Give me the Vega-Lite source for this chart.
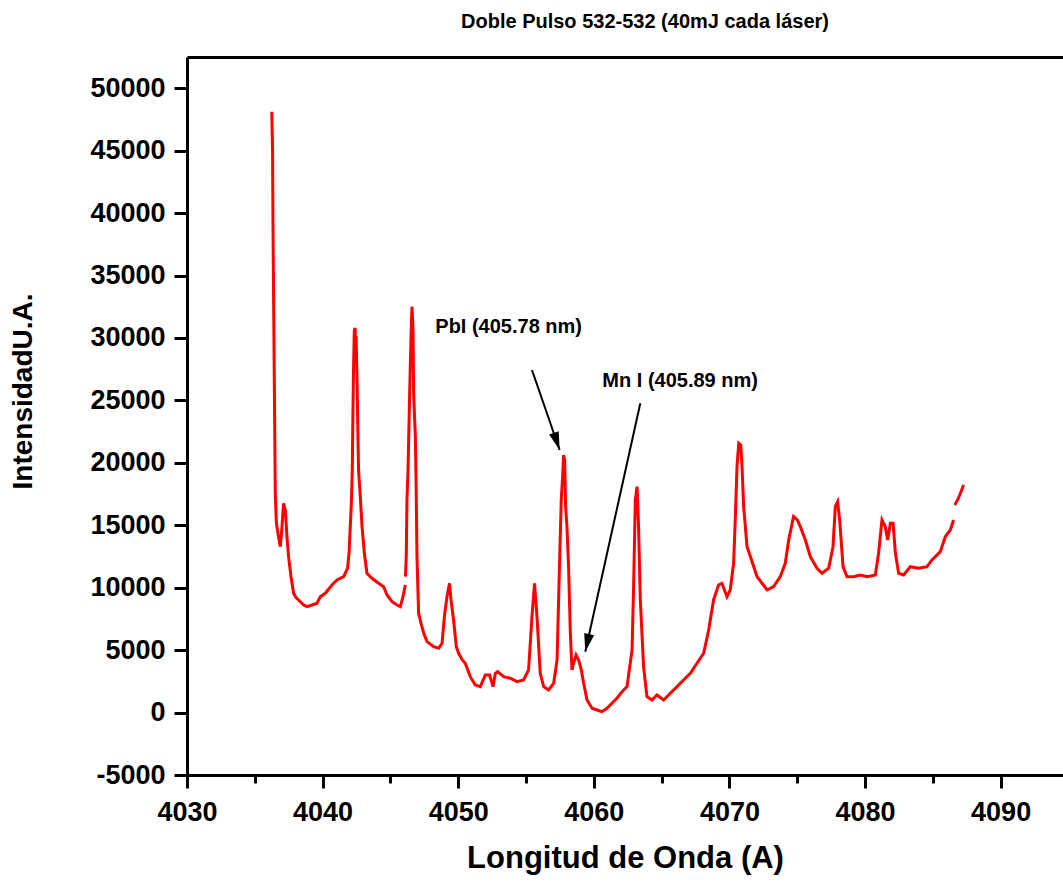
{
  "$schema": "https://vega.github.io/schema/vega-lite/v6.json",
  "autosize": {"type": "none"},
  "padding": {"left": 187, "top": 57, "right": 0, "bottom": 107},
  "width": 876,
  "height": 718,
  "background": "white",
  "config": {"view": {"stroke": null}, "font": "Liberation Sans"},
  "title": {"text": "Doble Pulso  532-532 (40mJ cada láser)", "frame": "group", "anchor": "middle", "dx": 20, "dy": 19, "offset": 28, "baseline": "alphabetic", "font": "Liberation Sans", "fontSize": 20, "fontWeight": "bold", "color": "black"},
  "datasets": {
    "spectrum": [
      {"x": 4036.25, "y": 48120, "seg": 1},
      {"x": 4036.31, "y": 45053, "seg": 1},
      {"x": 4036.34, "y": 39287, "seg": 1},
      {"x": 4036.40, "y": 31600, "seg": 1},
      {"x": 4036.46, "y": 23824, "seg": 1},
      {"x": 4036.51, "y": 17578, "seg": 1},
      {"x": 4036.59, "y": 15183, "seg": 1},
      {"x": 4036.73, "y": 14222, "seg": 1},
      {"x": 4036.88, "y": 13285, "seg": 1},
      {"x": 4036.99, "y": 14623, "seg": 1},
      {"x": 4037.12, "y": 16761, "seg": 1},
      {"x": 4037.25, "y": 16224, "seg": 1},
      {"x": 4037.37, "y": 14086, "seg": 1},
      {"x": 4037.49, "y": 12484, "seg": 1},
      {"x": 4037.67, "y": 10883, "seg": 1},
      {"x": 4037.86, "y": 9554, "seg": 1},
      {"x": 4038.05, "y": 9200, "seg": 1},
      {"x": 4038.23, "y": 9017, "seg": 1},
      {"x": 4038.60, "y": 8617, "seg": 1},
      {"x": 4038.85, "y": 8481, "seg": 1},
      {"x": 4039.22, "y": 8617, "seg": 1},
      {"x": 4039.59, "y": 8753, "seg": 1},
      {"x": 4039.83, "y": 9281, "seg": 1},
      {"x": 4040.20, "y": 9554, "seg": 1},
      {"x": 4040.69, "y": 10218, "seg": 1},
      {"x": 4041.06, "y": 10619, "seg": 1},
      {"x": 4041.55, "y": 10883, "seg": 1},
      {"x": 4041.84, "y": 11556, "seg": 1},
      {"x": 4041.95, "y": 12757, "seg": 1},
      {"x": 4042.04, "y": 14887, "seg": 1},
      {"x": 4042.12, "y": 16761, "seg": 1},
      {"x": 4042.19, "y": 19428, "seg": 1},
      {"x": 4042.23, "y": 23431, "seg": 1},
      {"x": 4042.28, "y": 27435, "seg": 1},
      {"x": 4042.34, "y": 30639, "seg": 1},
      {"x": 4042.40, "y": 30800, "seg": 1},
      {"x": 4042.43, "y": 29437, "seg": 1},
      {"x": 4042.47, "y": 30158, "seg": 1},
      {"x": 4042.54, "y": 26634, "seg": 1},
      {"x": 4042.60, "y": 22630, "seg": 1},
      {"x": 4042.65, "y": 19428, "seg": 1},
      {"x": 4042.78, "y": 17289, "seg": 1},
      {"x": 4042.91, "y": 14887, "seg": 1},
      {"x": 4043.08, "y": 12757, "seg": 1},
      {"x": 4043.27, "y": 11155, "seg": 1},
      {"x": 4043.64, "y": 10755, "seg": 1},
      {"x": 4044.13, "y": 10354, "seg": 1},
      {"x": 4044.50, "y": 10082, "seg": 1},
      {"x": 4044.75, "y": 9417, "seg": 1},
      {"x": 4045.12, "y": 8881, "seg": 1},
      {"x": 4045.49, "y": 8617, "seg": 1},
      {"x": 4045.73, "y": 8481, "seg": 1},
      {"x": 4045.93, "y": 9281, "seg": 1},
      {"x": 4046.10, "y": 10218, "seg": 1},
      {"x": 4046.11, "y": 10883, "seg": 2},
      {"x": 4046.17, "y": 12484, "seg": 2},
      {"x": 4046.22, "y": 17025, "seg": 2},
      {"x": 4046.30, "y": 19428, "seg": 2},
      {"x": 4046.42, "y": 25594, "seg": 2},
      {"x": 4046.52, "y": 30102, "seg": 2},
      {"x": 4046.59, "y": 32504, "seg": 2},
      {"x": 4046.64, "y": 31439, "seg": 2},
      {"x": 4046.67, "y": 30639, "seg": 2},
      {"x": 4046.71, "y": 25594, "seg": 2},
      {"x": 4046.84, "y": 22094, "seg": 2},
      {"x": 4046.90, "y": 17826, "seg": 2},
      {"x": 4046.96, "y": 12484, "seg": 2},
      {"x": 4047.08, "y": 7952, "seg": 2},
      {"x": 4047.26, "y": 7151, "seg": 2},
      {"x": 4047.45, "y": 6374, "seg": 2},
      {"x": 4047.70, "y": 5678, "seg": 2},
      {"x": 4048.19, "y": 5277, "seg": 2},
      {"x": 4048.56, "y": 5149, "seg": 2},
      {"x": 4048.81, "y": 5549, "seg": 2},
      {"x": 4048.98, "y": 7680, "seg": 2},
      {"x": 4049.17, "y": 9281, "seg": 2},
      {"x": 4049.36, "y": 10354, "seg": 2},
      {"x": 4049.47, "y": 9017, "seg": 2},
      {"x": 4049.66, "y": 7415, "seg": 2},
      {"x": 4049.86, "y": 5277, "seg": 2},
      {"x": 4050.03, "y": 4749, "seg": 2},
      {"x": 4050.30, "y": 4212, "seg": 2},
      {"x": 4050.52, "y": 3948, "seg": 2},
      {"x": 4050.89, "y": 2875, "seg": 2},
      {"x": 4051.26, "y": 2210, "seg": 2},
      {"x": 4051.63, "y": 2074, "seg": 2},
      {"x": 4052.00, "y": 3011, "seg": 2},
      {"x": 4052.32, "y": 3011, "seg": 2},
      {"x": 4052.57, "y": 2074, "seg": 2},
      {"x": 4052.74, "y": 3147, "seg": 2},
      {"x": 4052.91, "y": 3275, "seg": 2},
      {"x": 4053.35, "y": 2875, "seg": 2},
      {"x": 4053.84, "y": 2747, "seg": 2},
      {"x": 4054.34, "y": 2474, "seg": 2},
      {"x": 4054.82, "y": 2611, "seg": 2},
      {"x": 4055.19, "y": 3411, "seg": 2},
      {"x": 4055.44, "y": 7680, "seg": 2},
      {"x": 4055.63, "y": 10354, "seg": 2},
      {"x": 4055.81, "y": 7680, "seg": 2},
      {"x": 4056.05, "y": 3147, "seg": 2},
      {"x": 4056.30, "y": 2074, "seg": 2},
      {"x": 4056.67, "y": 1810, "seg": 2},
      {"x": 4057.04, "y": 2346, "seg": 2},
      {"x": 4057.29, "y": 4212, "seg": 2},
      {"x": 4057.48, "y": 12220, "seg": 2},
      {"x": 4057.60, "y": 17025, "seg": 2},
      {"x": 4057.70, "y": 18891, "seg": 2},
      {"x": 4057.77, "y": 20629, "seg": 2},
      {"x": 4057.85, "y": 20229, "seg": 2},
      {"x": 4057.92, "y": 16489, "seg": 2},
      {"x": 4058.02, "y": 14887, "seg": 2},
      {"x": 4058.14, "y": 11684, "seg": 2},
      {"x": 4058.27, "y": 6350, "seg": 2},
      {"x": 4058.39, "y": 3411, "seg": 2},
      {"x": 4058.51, "y": 3948, "seg": 2},
      {"x": 4058.69, "y": 4613, "seg": 2},
      {"x": 4058.88, "y": 4212, "seg": 2},
      {"x": 4059.08, "y": 3411, "seg": 2},
      {"x": 4059.25, "y": 2346, "seg": 2},
      {"x": 4059.50, "y": 1009, "seg": 2},
      {"x": 4059.87, "y": 344, "seg": 2},
      {"x": 4060.24, "y": 208, "seg": 2},
      {"x": 4060.60, "y": 72, "seg": 2},
      {"x": 4060.97, "y": 344, "seg": 2},
      {"x": 4061.34, "y": 745, "seg": 2},
      {"x": 4061.71, "y": 1145, "seg": 2},
      {"x": 4062.08, "y": 1674, "seg": 2},
      {"x": 4062.45, "y": 2074, "seg": 2},
      {"x": 4062.82, "y": 5013, "seg": 2},
      {"x": 4062.94, "y": 10354, "seg": 2},
      {"x": 4063.06, "y": 17025, "seg": 2},
      {"x": 4063.19, "y": 18090, "seg": 2},
      {"x": 4063.30, "y": 14887, "seg": 2},
      {"x": 4063.43, "y": 9017, "seg": 2},
      {"x": 4063.67, "y": 3676, "seg": 2},
      {"x": 4063.92, "y": 1273, "seg": 2},
      {"x": 4064.29, "y": 1009, "seg": 2},
      {"x": 4064.66, "y": 1409, "seg": 2},
      {"x": 4065.15, "y": 1009, "seg": 2},
      {"x": 4065.64, "y": 1546, "seg": 2},
      {"x": 4066.14, "y": 2074, "seg": 2},
      {"x": 4066.62, "y": 2611, "seg": 2},
      {"x": 4067.12, "y": 3147, "seg": 2},
      {"x": 4067.61, "y": 3948, "seg": 2},
      {"x": 4068.10, "y": 4749, "seg": 2},
      {"x": 4068.47, "y": 6615, "seg": 2},
      {"x": 4068.83, "y": 9017, "seg": 2},
      {"x": 4069.20, "y": 10218, "seg": 2},
      {"x": 4069.45, "y": 10354, "seg": 2},
      {"x": 4069.82, "y": 9281, "seg": 2},
      {"x": 4070.06, "y": 9818, "seg": 2},
      {"x": 4070.31, "y": 11956, "seg": 2},
      {"x": 4070.44, "y": 15688, "seg": 2},
      {"x": 4070.56, "y": 19692, "seg": 2},
      {"x": 4070.69, "y": 21566, "seg": 2},
      {"x": 4070.84, "y": 21430, "seg": 2},
      {"x": 4070.93, "y": 19692, "seg": 2},
      {"x": 4071.05, "y": 16489, "seg": 2},
      {"x": 4071.30, "y": 13285, "seg": 2},
      {"x": 4071.55, "y": 12484, "seg": 2},
      {"x": 4072.04, "y": 10883, "seg": 2},
      {"x": 4072.78, "y": 9818, "seg": 2},
      {"x": 4073.26, "y": 10082, "seg": 2},
      {"x": 4073.75, "y": 10883, "seg": 2},
      {"x": 4074.12, "y": 11956, "seg": 2},
      {"x": 4074.37, "y": 13822, "seg": 2},
      {"x": 4074.73, "y": 15688, "seg": 2},
      {"x": 4075.01, "y": 15423, "seg": 2},
      {"x": 4075.23, "y": 14887, "seg": 2},
      {"x": 4075.60, "y": 13822, "seg": 2},
      {"x": 4075.97, "y": 12484, "seg": 2},
      {"x": 4076.46, "y": 11556, "seg": 2},
      {"x": 4076.83, "y": 11155, "seg": 2},
      {"x": 4077.32, "y": 11556, "seg": 2},
      {"x": 4077.64, "y": 13285, "seg": 2},
      {"x": 4077.81, "y": 16489, "seg": 2},
      {"x": 4077.98, "y": 16889, "seg": 2},
      {"x": 4078.13, "y": 15423, "seg": 2},
      {"x": 4078.38, "y": 11684, "seg": 2},
      {"x": 4078.67, "y": 10883, "seg": 2},
      {"x": 4079.16, "y": 10883, "seg": 2},
      {"x": 4079.65, "y": 11019, "seg": 2},
      {"x": 4080.15, "y": 10883, "seg": 2},
      {"x": 4080.76, "y": 11019, "seg": 2},
      {"x": 4081.00, "y": 12757, "seg": 2},
      {"x": 4081.25, "y": 15423, "seg": 2},
      {"x": 4081.50, "y": 14887, "seg": 2},
      {"x": 4081.67, "y": 13822, "seg": 2},
      {"x": 4081.87, "y": 15159, "seg": 2},
      {"x": 4082.07, "y": 15159, "seg": 2},
      {"x": 4082.24, "y": 12757, "seg": 2},
      {"x": 4082.48, "y": 11155, "seg": 2},
      {"x": 4082.85, "y": 11019, "seg": 2},
      {"x": 4083.34, "y": 11684, "seg": 2},
      {"x": 4083.95, "y": 11556, "seg": 2},
      {"x": 4084.57, "y": 11684, "seg": 2},
      {"x": 4084.94, "y": 12220, "seg": 2},
      {"x": 4085.55, "y": 12885, "seg": 2},
      {"x": 4085.92, "y": 14086, "seg": 2},
      {"x": 4086.29, "y": 14623, "seg": 2},
      {"x": 4086.53, "y": 15423, "seg": 2},
      {"x": 4086.62, "y": 16624, "seg": 3},
      {"x": 4086.90, "y": 17185, "seg": 3},
      {"x": 4087.27, "y": 18226, "seg": 3}
    ],
    "arrows": [
      {"name": "Pb", "x": 4055.44, "y": 27436, "x2": 4057.48, "y2": 21029},
      {"name": "Mn", "x": 4063.43, "y": 24769, "x2": 4059.37, "y2": 4877}
    ],
    "notes": [
      {"text": "PbI (405.78 nm)", "x": 4048.31, "y": 30374},
      {"text": "Mn I (405.89 nm)", "x": 4060.63, "y": 26050}
    ]
  },
  "resolve": {"axis": {"x": "independent"}},
  "layer": [
    {
      "data": {"name": "spectrum"},
      "mark": {"type": "line", "color": "#ff0000", "strokeWidth": 3},
      "encoding": {
        "x": {
          "field": "x", "type": "quantitative",
          "scale": {"domain": [4030, 4094.6], "nice": false, "zero": false},
          "axis": {
            "orient": "bottom",
            "values": [4030, 4035, 4040, 4045, 4050, 4055, 4060, 4065, 4070, 4075, 4080, 4085, 4090],
            "labelExpr": "datum.value % 10 === 0 ? '' + datum.value : ''",
            "labelFont": "Liberation Sans", "labelFontSize": 27, "labelFontWeight": "bold", "labelColor": "black",
            "labelPadding": 11, "labelFlush": false, "labelOverlap": false,
            "tickSize": {"condition": {"test": "datum.value % 10 === 0", "value": 13}, "value": 8},
            "tickWidth": 3, "tickColor": "black",
            "domainWidth": 3, "domainColor": "black",
            "grid": false,
            "title": "Longitud de Onda (A)",
            "titleFont": "Liberation Sans", "titleFontSize": 31, "titleFontWeight": "bold", "titleColor": "black",
            "titleY": 83, "titleBaseline": "middle"
          }
        },
        "y": {
          "field": "y", "type": "quantitative",
          "scale": {"domain": [-5000, 52500], "nice": false, "zero": false},
          "axis": {
            "values": [-5000, -2500, 0, 2500, 5000, 7500, 10000, 12500, 15000, 17500, 20000, 22500, 25000, 27500, 30000, 32500, 35000, 37500, 40000, 42500, 45000, 47500, 50000, 52500],
            "labelExpr": "datum.value % 5000 === 0 ? '' + datum.value : ''",
            "labelFont": "Liberation Sans", "labelFontSize": 27, "labelFontWeight": "bold", "labelColor": "black",
            "labelPadding": 9, "labelFlush": false, "labelOverlap": false,
            "tickSize": {"condition": {"test": "datum.value % 5000 === 0", "value": 13}, "value": 8},
            "tickWidth": 3, "tickColor": "black",
            "domainWidth": 3, "domainColor": "black",
            "grid": false,
            "title": "IntensidadU.A.",
            "titleFont": "Liberation Sans", "titleFontSize": 28, "titleFontWeight": "bold", "titleColor": "black",
            "titleAngle": -90, "titleX": -164, "titleY": 334, "titleAlign": "center", "titleBaseline": "middle"
          }
        },
        "detail": {"field": "seg", "type": "nominal"}
      }
    },
    {
      "data": {"name": "arrows"},
      "mark": {"type": "rule", "color": "black", "strokeWidth": 2},
      "encoding": {
        "x": {"field": "x", "type": "quantitative", "scale": {"domain": [4030, 4094.6], "nice": false, "zero": false}, "axis": null},
        "y": {"field": "y", "type": "quantitative", "scale": {"domain": [-5000, 52500], "nice": false, "zero": false}},
        "x2": {"field": "x2"},
        "y2": {"field": "y2"}
      }
    },
    {
      "data": {"name": "arrows"},
      "transform": [{"filter": "datum.name === 'Pb'"}],
      "mark": {"type": "point", "shape": "M0,0L0.28,1L-0.28,1Z", "filled": true, "color": "black", "opacity": 1, "size": 1296, "angle": 161.4},
      "encoding": {
        "x": {"field": "x2", "type": "quantitative", "scale": {"domain": [4030, 4094.6], "nice": false, "zero": false}, "axis": null},
        "y": {"field": "y2", "type": "quantitative", "scale": {"domain": [-5000, 52500], "nice": false, "zero": false}}
      }
    },
    {
      "data": {"name": "arrows"},
      "transform": [{"filter": "datum.name === 'Mn'"}],
      "mark": {"type": "point", "shape": "M0,0L0.28,1L-0.28,1Z", "filled": true, "color": "black", "opacity": 1, "size": 1296, "angle": 192.5},
      "encoding": {
        "x": {"field": "x2", "type": "quantitative", "scale": {"domain": [4030, 4094.6], "nice": false, "zero": false}, "axis": null},
        "y": {"field": "y2", "type": "quantitative", "scale": {"domain": [-5000, 52500], "nice": false, "zero": false}}
      }
    },
    {
      "data": {"name": "notes"},
      "mark": {"type": "text", "align": "left", "baseline": "alphabetic", "font": "Liberation Sans", "fontSize": 20, "fontWeight": "bold", "color": "black"},
      "encoding": {
        "x": {"field": "x", "type": "quantitative", "scale": {"domain": [4030, 4094.6], "nice": false, "zero": false},
          "axis": {"orient": "top", "labels": false, "ticks": false, "title": null, "grid": false, "domainWidth": 3, "domainColor": "black"}},
        "y": {"field": "y", "type": "quantitative", "scale": {"domain": [-5000, 52500], "nice": false, "zero": false}},
        "text": {"field": "text"}
      }
    }
  ]
}
